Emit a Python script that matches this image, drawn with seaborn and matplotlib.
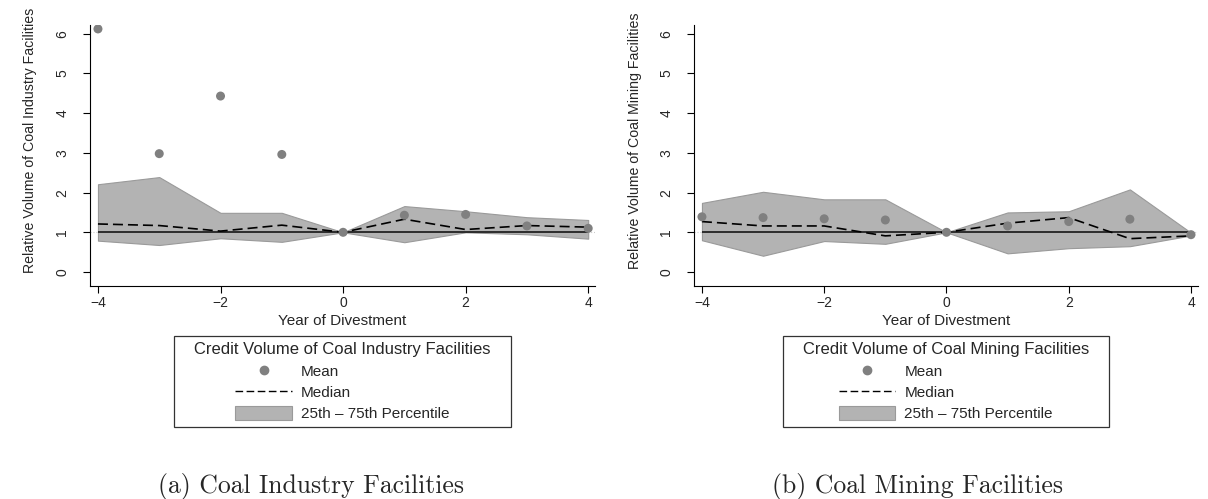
import numpy as np
import pandas as pd
import matplotlib
matplotlib.use("Agg")
import matplotlib.pyplot as plt
import seaborn as sns
from matplotlib.patches import Patch
from matplotlib.lines import Line2D

years = [-4, -3, -2, -1, 0, 1, 2, 3, 4]

ind_mean = [6.12, 2.98, 4.43, 2.96, 1.0, 1.43, 1.45, 1.16, 1.10]
ind_median = [1.21, 1.17, 1.03, 1.18, 1.0, 1.33, 1.07, 1.17, 1.13]
ind_p25 = [0.79, 0.68, 0.85, 0.76, 1.0, 0.75, 1.00, 0.95, 0.84]
ind_p75 = [2.21, 2.39, 1.49, 1.49, 1.0, 1.66, 1.53, 1.38, 1.31]

min_mean = [1.39, 1.37, 1.34, 1.31, 1.0, 1.16, 1.27, 1.33, 0.94]
min_median = [1.27, 1.16, 1.16, 0.91, 1.0, 1.23, 1.37, 0.84, 0.91]
min_p25 = [0.80, 0.41, 0.78, 0.71, 1.0, 0.47, 0.60, 0.65, 0.92]
min_p75 = [1.74, 2.02, 1.83, 1.83, 1.0, 1.50, 1.53, 2.08, 0.99]

ylabels = ["Relative Volume of Coal Industry Facilities",
           "Relative Volume of Coal Mining Facilities"]
legend_titles = ["Credit Volume of Coal Industry Facilities",
                 "Credit Volume of Coal Mining Facilities"]
captions = ["(a) Coal Industry Facilities", "(b) Coal Mining Facilities"]
xlabel = "Year of Divestment"
legend_labels = ["Mean", "Median", "25th \u2013 75th Percentile"]

sns.set_theme(style="ticks")
plt.rcParams["font.family"] = ["Liberation Sans", "DejaVu Sans"]

fig = plt.figure(figsize=(12.08, 4.99), dpi=100)
positions = [[0.0745, 0.427, 0.418, 0.523], [0.5745, 0.427, 0.417, 0.523]]
caption_x = [311 / 1208, 917 / 1208]

FILL = "#b3b3b3"
EDGE = "#9a9a9a"
MEAN_C = "#808080"

panels = [
    (ind_mean, ind_median, ind_p25, ind_p75),
    (min_mean, min_median, min_p25, min_p75),
]

for i, (mean, median, p25, p75) in enumerate(panels):
    ax = fig.add_axes(positions[i])
    df = pd.DataFrame({"year": years, "mean": mean, "median": median,
                       "p25": p25, "p75": p75})
    ax.axhline(1, color="#cccccc", lw=0.8, ls=":", zorder=0)
    ax.fill_between(df["year"], df["p25"], df["p75"], facecolor=FILL,
                    edgecolor=EDGE, lw=0.8, zorder=1)
    ax.hlines(1, -4, 4, color="#222222", lw=1.3, zorder=2)
    sns.lineplot(data=df, x="year", y="median", ax=ax, color="black",
                 lw=1.2, zorder=3)
    ax.lines[-1].set_dashes([6, 3])
    sns.scatterplot(data=df, x="year", y="mean", ax=ax, color=MEAN_C,
                    s=42, edgecolor="none", zorder=4)
    ax.set_xlim(-4.13, 4.11)
    ax.set_ylim(-0.35, 6.22)
    ax.set_xticks([-4, -2, 0, 2, 4])
    ax.set_yticks([0, 1, 2, 3, 4, 5, 6])
    ax.tick_params(axis="both", labelsize=10, length=5, width=0.8,
                   color="black")
    ax.tick_params(axis="x", pad=2)
    ax.tick_params(axis="y", pad=10)
    for lab in ax.get_yticklabels():
        lab.set_rotation(90)
        lab.set_va("center")
    ax.set_xlabel(xlabel, fontsize=11, labelpad=3)
    ax.set_ylabel(ylabels[i], fontsize=10.2, labelpad=12)
    ax.yaxis.set_label_coords(-0.104, 0.556)
    for s in ["top", "right"]:
        ax.spines[s].set_visible(False)
    for s in ["left", "bottom"]:
        ax.spines[s].set_color("black")
        ax.spines[s].set_linewidth(0.8)

    handles = [
        Line2D([], [], marker="o", color=MEAN_C, ls="none", markersize=6),
        Line2D([], [], color="black", ls=(0, (5.5, 2.5)), lw=1.0),
        Patch(facecolor=FILL, edgecolor=EDGE, lw=0.8),
    ]
    leg = ax.legend(handles, legend_labels,
                    title="\u00a0\u00a0\u00a0" + legend_titles[i] + "\u00a0\u00a0\u00a0",
                    loc="upper center", bbox_to_anchor=(0.5, -0.19),
                    fontsize=11, title_fontsize=12, frameon=True,
                    fancybox=False, edgecolor="black", handlelength=3.7,
                    handleheight=1.0, labelspacing=0.4, borderpad=0.4,
                    handletextpad=0.6, borderaxespad=0)
    leg.get_frame().set_linewidth(0.9)
    leg._legend_box.align = "center"
    leg._legend_box.sep = 5

    fig.text(caption_x[i], 1 - 487 / 499, captions[i], fontsize=18.5,
             family="cmr10", ha="center", va="center")

fig.savefig("out.png", dpi=100, facecolor="white")
